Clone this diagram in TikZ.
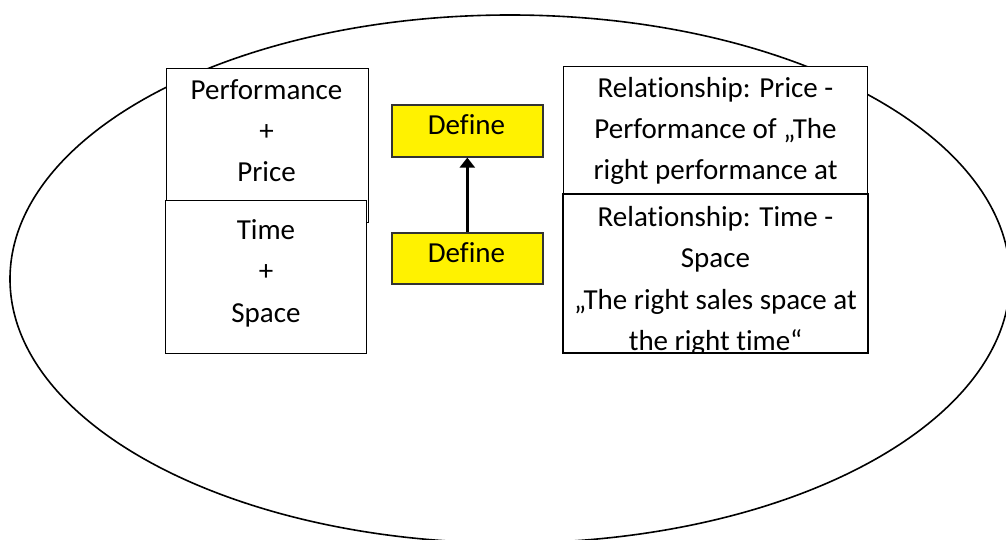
\documentclass[tikz,border=0pt]{standalone}
\usepackage{fontspec}
\setmainfont{Carlito}[Ligatures={TeX,NoCommon}]
\usetikzlibrary{arrows.meta}
\begin{document}
\begin{tikzpicture}[x=1pt,y=-1pt,
  frame/.style={draw=black,fill=white,line width=1.4pt,rectangle,inner sep=0pt,anchor=north west},
  definebox/.style={draw=black!80,fill=yellow,line width=1.6pt,rectangle,inner sep=0pt,anchor=north west},
  label/.style={anchor=base,inner sep=0pt,align=center,font=\fontsize{29}{41.2}\selectfont},
  link/.style={line width=2.4pt,-{Triangle[length=10pt,width=15pt]}}]
\useasboundingbox (0,0) rectangle (1006,540);

% surrounding ellipse
\draw[line width=1.6pt] (510,279) ellipse [x radius=500pt, y radius=264pt];

% left column (labels are anchored at the baseline of their last line)
\node[frame,minimum width=202pt,minimum height=154pt] (pp) at (166,68) {};
\node[label] (pptext) at (266.5,181.8) {Performance\\+\\Price};
\node[frame,minimum width=201pt,minimum height=153pt] (ts) at (165,200) {};
\node[label] (tstext) at (266,322) {Time\\+\\Space};

% middle: the two define steps
\node[definebox,minimum width=151pt,minimum height=52pt] (defA) at (391,104) {};
\node[label] (defAtext) at (466.5,134.3) {Define};
\node[definebox,minimum width=151pt,minimum height=51pt] (defB) at (391,232) {};
\node[label] (defBtext) at (466.5,262) {Define};
\draw[link] (defB.north) -- (defA.south);

% right column
\node[frame,minimum width=304pt,minimum height=156pt] (rpp) at (563,66) {};
\node[label] (rpptext) at (715.5,180) {Relationship: Price -\\Performance of „The\\right performance at};
\node[frame,minimum width=304pt,minimum height=158pt] (rts) at (563,194) {};
\begin{scope}
  \clip (rts.north west) rectangle (rts.south east);
  \node[label] (rtstext) at (715.5,350.3) {Relationship: Time -\\Space\\„The right sales space at\\the right time“};
\end{scope}
\draw[line width=1.4pt] (rts.north west) rectangle (rts.south east);
\end{tikzpicture}
\end{document}
